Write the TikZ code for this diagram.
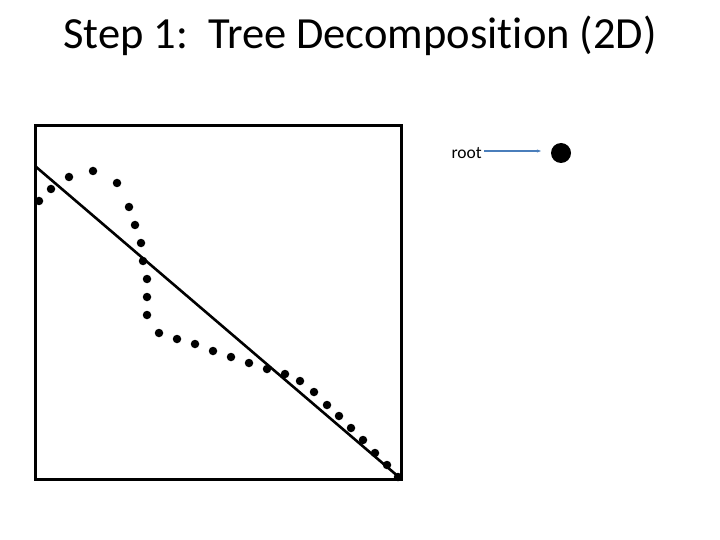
\documentclass[tikz,border=0pt]{standalone}
\usepackage{fontspec}
\setmainfont[Ligatures=NoCommon]{Carlito}
\usetikzlibrary{arrows.meta}
\definecolor{arrowblue}{HTML}{4A7EBB}
\begin{document}
\begin{tikzpicture}[x=1pt,y=-1pt,
  dot/.style={circle,fill=black,inner sep=0pt,minimum size=8.5pt},
  frame/.style={draw=black,line width=3pt},
  cut/.style={draw=black,line width=2.6pt}]
\useasboundingbox (0,0) rectangle (720,540);
\node[font=\fontsize{44.5}{52}\selectfont] (title) at (360,36) {Step 1:\ \ Tree Decomposition (2D)};
\draw[frame] (35,126) rectangle (401,479);
\coordinate (ca) at (35,166);
\coordinate (cb) at (400,478);
\draw[cut] (ca) -- (cb);
\foreach \x/\y [count=\i] in {39/201,51/189,69/177,93/171,117/183,129/207,135/225,141/243,143/261,147/279,147/297,147/315,159/333,177/339,195/344,213/351,231/357,249/363,267/369,285/374,300/381,314/392,327/405,339/416,351/428,363/440,375/453,387/465,398/477}
  \node[dot] (d\i) at (\x,\y) {};
\node[font=\fontsize{17.5}{20}\selectfont,anchor=east,inner sep=1pt] (root) at (483,153) {root};
\node[circle,fill=black,inner sep=0pt,minimum size=20pt] (rootdot) at (561,153) {};
\coordinate (ra) at (484,151);
\coordinate (rb) at (541,151);
\draw[arrowblue,line width=1.1pt,-{Stealth[length=4pt,width=3pt]}] (ra) -- (rb);
\end{tikzpicture}
\end{document}
